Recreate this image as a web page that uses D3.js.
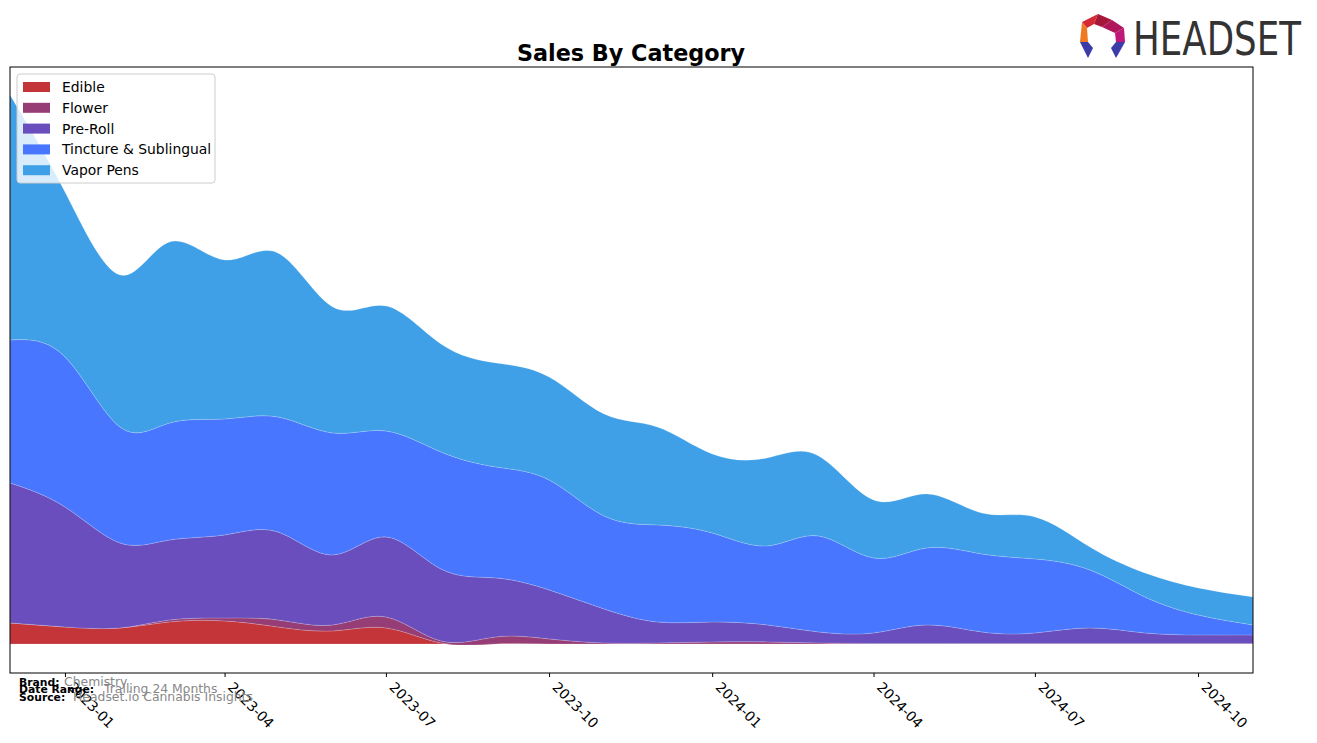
<!DOCTYPE html>
<html lang="en">
<head>
    <meta charset="UTF-8">
    <title>Sales By Category</title>
    <script src="https://d3js.org/d3.v7.min.js"></script>
    <style>
        body { margin: 0; background: #fff; }
        text { font-family: "DejaVu Sans", sans-serif; }
    </style>
</head>
<body>
<svg width="1317" height="743" class="chart"></svg>

<script>
    // monthly data, Dec 2022 .. Nov 2024
    var months = ["2022-12", "2023-01", "2023-02", "2023-03", "2023-04", "2023-05", "2023-06", "2023-07",
        "2023-08", "2023-09", "2023-10", "2023-11", "2023-12", "2024-01", "2024-02", "2024-03",
        "2024-04", "2024-05", "2024-06", "2024-07", "2024-08", "2024-09", "2024-10", "2024-11"];

    var categories = ["Edible", "Flower", "Pre-Roll", "Tincture & Sublingual", "Vapor Pens"];
    var colors = ["#c33539", "#963d76", "#6a4ebd", "#4876fe", "#3fa0e8"];

    // estimated sales (thousands)
    var edible = [21, 17, 16, 22, 23, 17, 13, 16, 1, 0, 0, 0, 0, 0, 0, 0, 0, 0, 0, 0, 0, 0, 0, 0];
    var flower = [0, 0, 0, 2, 3, 7, 6, 11, 2, 7, 5, 1, 1, 2, 2, 1, 0.5, 0.5, 0.5, 0.5, 0.5, 0.5, 0.5, 0.5];
    var preRoll = [140, 120, 85, 80, 83, 88, 70, 80, 72, 59, 49, 34, 21, 20, 17, 11, 10.5, 18.5, 11.5, 10.5, 15.5, 10.5, 8.5, 8.5];
    var tincture = [143, 150, 116, 117, 116, 115, 122, 106, 117, 111, 110, 93, 97, 89, 79, 96, 75, 77, 78, 74, 58, 36, 20, 10];
    var vaporPens = [245, 165, 152, 181, 159, 164, 126, 125, 108, 104, 103, 102, 98, 79, 88, 80, 58, 54, 41, 42, 23, 24, 27, 28];

    var tickMonths = ["2023-01", "2023-04", "2023-07", "2023-10", "2024-01", "2024-04", "2024-07", "2024-10"];

    var series = [edible, flower, preRoll, tincture, vaporPens];
    var parseMonth = d3.timeParse("%Y-%m");

    var rows = months.map(function (m, i) {
        var r = {date: parseMonth(m)};
        categories.forEach(function (c, j) {
            r[c] = series[j][i];
        });
        return r;
    });

    var svg = d3.select("svg.chart");
    var plotLeft = 10, plotRight = 1253, plotTop = 67, plotBottom = 673;

    var xScale = d3.scaleTime()
        .domain([parseMonth(months[0]), parseMonth(months[months.length - 1])])
        .range([plotLeft, plotRight]);

    var stacked = d3.stack().keys(categories)(rows);
    var maxTotal = d3.max(stacked[stacked.length - 1], function (d) { return d[1]; });
    var yScale = d3.scaleLinear()
        .domain([-0.053 * maxTotal, 1.051 * maxTotal])
        .range([plotBottom, plotTop]);

    svg.append("defs").append("clipPath").attr("id", "plotclip")
        .append("rect")
        .attr("x", plotLeft).attr("y", plotTop)
        .attr("width", plotRight - plotLeft).attr("height", plotBottom - plotTop);

    var area = d3.area()
        .curve(d3.curveNatural)
        .x(function (d) { return xScale(d.data.date); })
        .y0(function (d) { return yScale(d[0]); })
        .y1(function (d) { return yScale(d[1]); });

    svg.append("g")
        .attr("clip-path", "url(#plotclip)")
        .selectAll("path")
        .data(stacked)
        .enter().append("path")
        .attr("d", area)
        .attr("fill", function (d, i) { return colors[i]; })
        .attr("stroke", "#ffffff")
        .attr("stroke-opacity", 0.25)
        .attr("stroke-width", 0.7);

    // frame
    svg.append("rect")
        .attr("x", plotLeft).attr("y", plotTop)
        .attr("width", plotRight - plotLeft).attr("height", plotBottom - plotTop)
        .attr("fill", "none")
        .attr("stroke", "#000")
        .attr("stroke-width", 1);

    // x axis
    var xAxis = svg.append("g")
        .attr("transform", "translate(0," + plotBottom + ")")
        .call(d3.axisBottom(xScale)
            .tickValues(tickMonths.map(parseMonth))
            .tickSize(4)
            .tickFormat(d3.timeFormat("%Y-%m")));
    xAxis.select(".domain").remove();
    xAxis.selectAll(".tick line").attr("stroke", "#000");
    xAxis.selectAll(".tick text")
        .attr("font-size", "13.9px")
        .attr("fill", "#000")
        .attr("text-anchor", "start")
        .attr("y", 0)
        .attr("dy", 0)
        .attr("transform", "translate(2,15) rotate(45)");

    // title
    svg.append("text")
        .attr("x", 631)
        .attr("y", 61)
        .attr("text-anchor", "middle")
        .attr("font-size", "22.3px")
        .attr("font-weight", "bold")
        .text("Sales By Category");

    // legend
    var legend = svg.append("g").attr("transform", "translate(17,74)");
    legend.append("rect")
        .attr("width", 198).attr("height", 109)
        .attr("rx", 3)
        .attr("fill", "#fff").attr("fill-opacity", 0.8)
        .attr("stroke", "#cccccc");
    categories.forEach(function (c, i) {
        var row = legend.append("g").attr("transform", "translate(6," + (8 + i * 20.8) + ")");
        row.append("rect").attr("width", 27).attr("height", 10).attr("fill", colors[i]);
        row.append("text")
            .attr("x", 39).attr("y", 10)
            .attr("font-size", "13.9px")
            .text(c);
    });

    // footer notes
    var notes = [["Brand:", "Chemistry", 686, 64], ["Date Range:", "Trailing 24 Months", 693, 104], ["Source:", "Headset.io Cannabis Insights", 701, 73]];
    notes.forEach(function (n) {
        svg.append("text")
            .attr("x", 19).attr("y", n[2])
            .attr("font-size", "10.8px")
            .attr("font-weight", "bold")
            .text(n[0]);
        svg.append("text")
            .attr("x", n[3]).attr("y", n[2])
            .attr("font-size", "12.4px")
            .attr("fill", "#888")
            .text(n[1]);
    });

    // logo
    var logo = svg.append("g").attr("transform", "translate(1102,36)");
    var segs = [
        {p: [[-4, -22], [10, -16], [0, -9], [-8, -12]], c: "#a5183a"},
        {p: [[-4, -22], [-8, -12], [-15, -8], [-20, -14]], c: "#d42a33"},
        {p: [[10, -16], [22, -8], [13, -3], [0, -9]], c: "#b0175a"},
        {p: [[22, -8], [23, 6], [14, 6], [13, -3]], c: "#c0187a"},
        {p: [[-20, -14], [-15, -8], [-14, 6], [-22, 6]], c: "#f07a22"},
        {p: [[-22, 6], [-14, 6], [-9, 12], [-14, 22]], c: "#3c3ca8"},
        {p: [[-22, 6], [-14, 22], [-20, 10]], c: "#5858d0"},
        {p: [[23, 6], [14, 6], [9, 12], [14, 22]], c: "#3c3ca8"},
        {p: [[23, 6], [14, 22], [20, 10]], c: "#5858d0"}
    ];
    segs.forEach(function (s) {
        logo.append("polygon")
            .attr("points", s.p.map(function (q) { return q.join(","); }).join(" "))
            .attr("fill", s.c);
    });
    svg.append("text")
        .attr("x", 1133).attr("y", 55)
        .attr("font-size", "46px")
        .attr("font-family", "'DejaVu Sans Condensed', 'DejaVu Sans', sans-serif")
        .attr("fill", "#333")
        .attr("textLength", 168)
        .attr("lengthAdjust", "spacingAndGlyphs")
        .text("HEADSET");
</script>
</body>
</html>
